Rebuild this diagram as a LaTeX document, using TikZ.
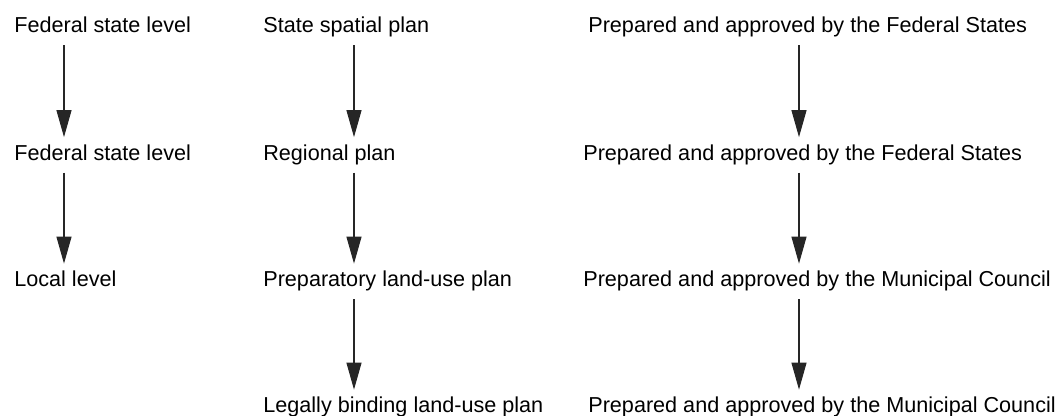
\documentclass[tikz,border=0pt]{standalone}
\usepackage{fontspec}
\setmainfont{Liberation Sans}
\usetikzlibrary{arrows.meta}
\tikzset{
  lvl/.style={anchor=base west, inner xsep=0pt, inner ysep=0.13cm,
    text height=0.33cm, text depth=0.11cm, font=\fontsize{12.3}{14}\selectfont},
  down/.style={-{Triangle[width=0.3cm,length=0.54cm]}, line width=0.6pt, draw=black!85, fill=black!90}
}
\begin{document}
\begin{tikzpicture}
\useasboundingbox (0,0) rectangle (21.24,-8.32);
% level
\node[lvl] (lev1) at (0.28,-0.66) {Federal state level};
\node[lvl] (lev2) at (0.28,-3.21) {Federal state level};
\node[lvl] (lev3) at (0.28,-5.74) {Local level};
% plan
\node[lvl] (plan1) at (5.26,-0.66) {State spatial plan};
\node[lvl] (plan2) at (5.26,-3.21) {Regional plan};
\node[lvl] (plan3) at (5.26,-5.74) {Preparatory land-use plan};
\node[lvl] (plan4) at (5.26,-8.26) {Legally binding land-use plan};
% who
\node[lvl] (who1) at (11.76,-0.66) {Prepared and approved by the Federal States};
\node[lvl] (who2) at (11.66,-3.21) {Prepared and approved by the Federal States};
\node[lvl] (who3) at (11.66,-5.74) {Prepared and approved by the Municipal Council};
\node[lvl] (who4) at (11.76,-8.26) {Prepared and approved by the Municipal Council};
\coordinate (x1) at (1.28,0);
\coordinate (x2) at (7.08,0);
\coordinate (x3) at (15.98,0);
\draw[down] (lev1.south -| x1) -- (lev2.north -| x1);
\draw[down] (lev2.south -| x1) -- (lev3.north -| x1);
\draw[down] (plan1.south -| x2) -- (plan2.north -| x2);
\draw[down] (plan2.south -| x2) -- (plan3.north -| x2);
\draw[down] (plan3.south -| x2) -- (plan4.north -| x2);
\draw[down] (who1.south -| x3) -- (who2.north -| x3);
\draw[down] (who2.south -| x3) -- (who3.north -| x3);
\draw[down] (who3.south -| x3) -- (who4.north -| x3);
\end{tikzpicture}
\end{document}
